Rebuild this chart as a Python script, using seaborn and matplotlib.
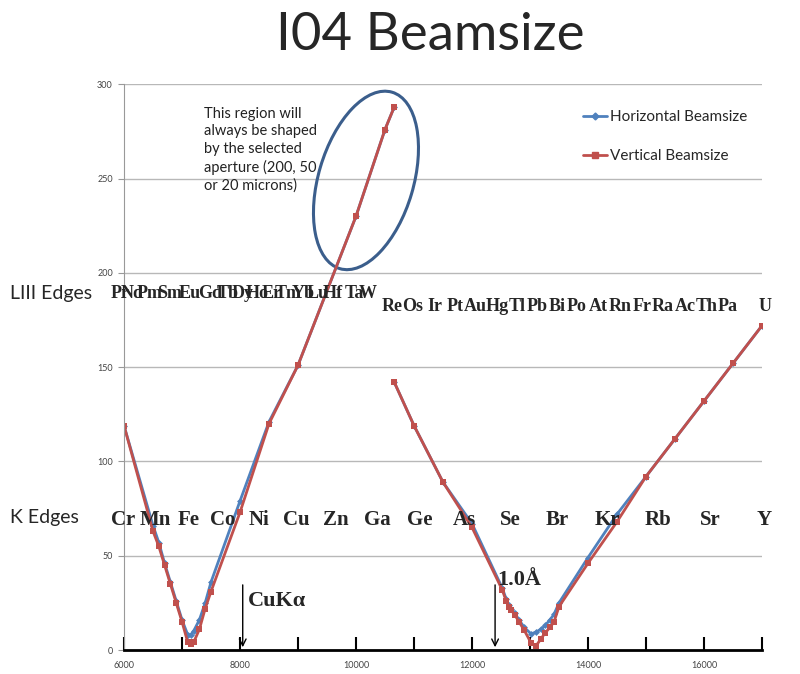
import seaborn as sns
import matplotlib.pyplot as plt
import matplotlib.transforms as mtransforms
from matplotlib.patches import Ellipse
from matplotlib.lines import Line2D
import pandas as pd

# Beamsize curves (energy in eV vs size), two segments each
left_energy = [6000, 6500, 6600, 6700, 6800, 6900, 7000, 7100, 7150, 7200, 7300, 7400, 7500,
               8000, 8500, 9000, 10000, 10500, 10660]
left_vertical = [119, 63, 55, 45, 35, 25, 15, 4, 3, 4, 11, 22, 31, 73, 120, 151, 230, 276, 288]
left_horizontal = [119, 66, 57, 46, 36, 26, 16, 8, 8, 10, 16, 25, 36, 79, 121, 151, 230, 276, 288]

right_energy = [10660, 11000, 11500, 12000, 12520, 12590, 12630, 12680, 12740, 12810, 12900,
                13020, 13100, 13190, 13260, 13345, 13415, 13500, 14000, 14500, 15000, 15500,
                16000, 16500, 17000]
right_vertical = [142, 119, 89, 65, 32, 26, 23, 21, 18.5, 15, 10.5, 3.7, 2, 6, 9, 12, 15, 23,
                  46, 68, 92, 112, 132, 152, 172]
right_horizontal = [142, 119, 89, 67, 33, 27, 24, 22, 19.5, 16, 12, 8.5, 9.5, 11, 13, 16, 19, 25,
                    49, 72, 92, 112, 132, 152, 172]

# Edge labels
k_elements = ['Cr', 'Mn', 'Fe', 'Co', 'Ni', 'Cu', 'Zn', 'Ga', 'Ge', 'As', 'Se', 'Br', 'Kr',
              'Rb', 'Sr', 'Y']
k_edges = [5989, 6539, 7112, 7709, 8333, 8979, 9659, 10367, 11103, 11867, 12658, 13474, 14326,
           15200, 16105, 17038]
l3_elements_a = ['Pr', 'Nd', 'Pm', 'Sm', 'Eu', 'Gd', 'Tb', 'Dy', 'Ho', 'Er', 'Tm', 'Yb', 'Lu',
                 'Hf', 'Ta', 'W']
l3_pos_a = [5930, 6140, 6450, 6790, 7140, 7480, 7780, 8050, 8290, 8550, 8830, 9090, 9340,
            9600, 9970, 10210]
l3_elements_b = ['Re', 'Os', 'Ir', 'Pt', 'Au', 'Hg', 'Tl', 'Pb', 'Bi', 'Po', 'At', 'Rn', 'Fr',
                 'Ra', 'Ac', 'Th', 'Pa', 'U']
l3_pos_b = [10620, 10983, 11362, 11707, 12052, 12431, 12776, 13121, 13466, 13810, 14172, 14552,
            14931, 15293, 15672, 16052, 16414, 17052]

rows = []
for seg, (xs, hs, vs) in enumerate([(left_energy, left_horizontal, left_vertical),
                                     (right_energy, right_horizontal, right_vertical)]):
    for x, h, v in zip(xs, hs, vs):
        rows.append({'Energy': x, 'Size': h, 'Series': 'Horizontal Beamsize', 'Segment': seg})
        rows.append({'Energy': x, 'Size': v, 'Series': 'Vertical Beamsize', 'Segment': seg})
df = pd.DataFrame(rows)

sns.set_theme(style='white')
plt.rcParams['font.family'] = ['Lato', 'DejaVu Sans']

blue = '#4F81BD'
red = '#C0504D'

fig = plt.figure(figsize=(8, 6.74), dpi=100)
ax = fig.add_axes([0.155, 0.0356, 0.7975, 0.8394])

sns.lineplot(data=df, x='Energy', y='Size', hue='Series', style='Series', units='Segment',
             estimator=None, sort=False, palette={'Horizontal Beamsize': blue, 'Vertical Beamsize': red},
             markers={'Horizontal Beamsize': 'D', 'Vertical Beamsize': 's'}, dashes=False,
             hue_order=['Horizontal Beamsize', 'Vertical Beamsize'],
             linewidth=2, markersize=5, markeredgewidth=0, legend=False, ax=ax)
for line in ax.lines:
    if line.get_marker() == 'D':
        line.set_markersize(3.5)

ax.set_xlim(6000, 17000)
ax.set_ylim(0, 300)
ax.set_xticks(range(6000, 17000, 2000))
ax.set_xticks(range(7000, 17001, 2000), minor=True)
ax.set_yticks(range(0, 301, 50))
ax.set_xlabel('')
ax.set_ylabel('')
ax.yaxis.grid(True, color='#B8B8B8', linewidth=1)
ax.tick_params(axis='x', which='both', bottom=True, direction='in', length=9.5, width=1.5,
               color='black', labelsize=6.5, labelcolor='#444444', pad=8)
ax.tick_params(axis='y', left=True, direction='out', length=4, width=0.8, color='#999999',
               labelsize=6.5, labelcolor='#444444', pad=4)
for s in ['top', 'right']:
    ax.spines[s].set_visible(False)
ax.spines['left'].set_color('#999999')
ax.spines['left'].set_linewidth(0.8)
ax.spines['bottom'].set_color('black')
ax.spines['bottom'].set_linewidth(2)

serif = ['Liberation Serif', 'DejaVu Serif']
for name, x in zip(k_elements, k_edges):
    ax.text(x, 69, name, ha='center', va='center', fontsize=15, fontweight='bold',
            family=serif, clip_on=False)
for name, x in zip(l3_elements_a, l3_pos_a):
    ax.text(x, 189, name, ha='center', va='center', fontsize=13, fontweight='bold',
            family=serif, clip_on=False)
for name, x in zip(l3_elements_b, l3_pos_b):
    ax.text(x, 182, name, ha='center', va='center', fontsize=13, fontweight='bold',
            family=serif, clip_on=False)

# Reference energy arrows
ax.annotate('', xy=(8047, 0), xytext=(8047, 36),
            arrowprops=dict(arrowstyle='->', color='black', lw=1))
ax.text(8130, 26, 'CuK\u03b1', fontsize=16, fontweight='bold', family=serif, va='center')
ax.annotate('', xy=(12398, 0), xytext=(12398, 36),
            arrowprops=dict(arrowstyle='->', color='black', lw=1))
ax.text(12430, 37, '1.0\u00c5', fontsize=16, fontweight='bold', family=serif, va='center')

# Aperture note and ellipse
ax.text(7380, 288, 'This region will\nalways be shaped\nby the selected\naperture (200, 50\nor 20 microns)',
        fontsize=10.5, va='top', ha='left', linespacing=1.32, color='#222222')
trans = fig.dpi_scale_trans + mtransforms.ScaledTranslation(10172, 249, ax.transData)
ax.add_patch(Ellipse((0, 0), width=1.84, height=0.95, angle=73.5, transform=trans,
                     fill=False, edgecolor='#3B5E8C', linewidth=2.2, clip_on=False))

handles = [Line2D([], [], color=blue, marker='D', markersize=3.5, lw=2),
           Line2D([], [], color=red, marker='s', markersize=5, lw=2)]
ax.legend(handles, ['Horizontal Beamsize', 'Vertical Beamsize'], loc='upper left',
          bbox_to_anchor=(0.6975, 0.978), frameon=False, fontsize=11, labelspacing=1.6,
          handlelength=1.6, handletextpad=0.2)

fig.text(0.5375, 0.948, 'I04 Beamsize', ha='center', va='center', fontsize=38)
fig.text(0.0125, 0.565, 'LIII Edges', ha='left', va='center', fontsize=14)
fig.text(0.0125, 0.2315, 'K Edges', ha='left', va='center', fontsize=14)

fig.savefig('out.png', dpi=100)
